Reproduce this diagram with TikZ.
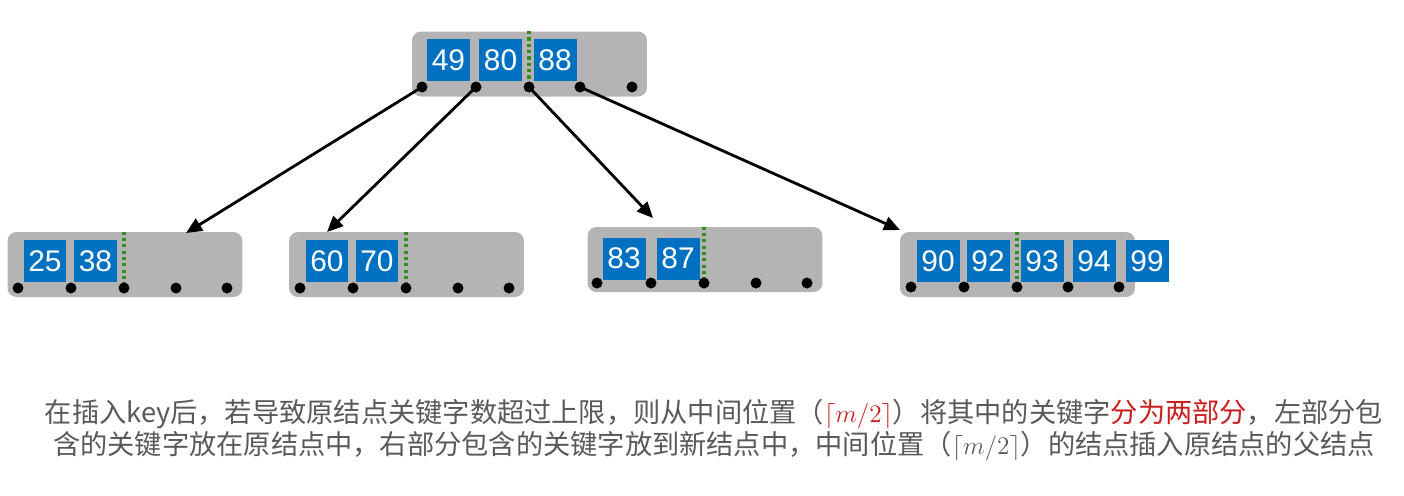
\documentclass[tikz,border=0pt]{standalone}
\usepackage{fontspec}
\setmainfont{Liberation Sans}
\newfontfamily\cjkfont{Noto Sans CJK SC}
\usetikzlibrary{arrows.meta}
\definecolor{keyblue}{RGB}{0,112,192}
\definecolor{nodegray}{RGB}{180,180,180}
\definecolor{splitgreen}{RGB}{50,140,30}
\definecolor{textgray}{RGB}{89,89,89}
\definecolor{splitred}{RGB}{200,30,30}

\begin{document}
\begin{tikzpicture}[x=0.02cm, y=-0.02cm,
      bnode/.style={rectangle, rounded corners=0.18cm, fill=nodegray, inner sep=0pt,
                    minimum width=4.7cm, minimum height=1.3cm},
      keybox/.style={rectangle, fill=keyblue, text=white, inner sep=0pt,
                     minimum width=0.86cm, minimum height=0.84cm, font=\fontsize{17}{18}\selectfont},
      ptr/.style={circle, fill=black, inner sep=0pt, minimum size=0.22cm},
      split/.style={splitgreen, line width=2.2pt, dash pattern=on 1.8pt off 1.8pt},
      arr/.style={-{Triangle[length=0.32cm, width=0.28cm]}, line width=1.6pt},
      note/.style={text=textgray, align=center, font=\cjkfont\fontsize{15.5}{18.7}\selectfont}
    ]
    \useasboundingbox (0,0) rectangle (1404,495);

    % root
    \node[bnode] (root) at (529.5,64) {};
    \node[keybox] (k49) at (448.5,60) {49};
    \node[keybox] (k80) at (500.5,60) {80};
    \node[keybox] (k88) at (555,60) {88};
    \foreach \x [count=\i from 0] in {422,476,529,580,632}
      \coordinate (r\i) at (\x,87);
    \draw[split] (root.north -| r2) -- (r2);

    % leaves
    \node[bnode] (leafa) at (125,264.5) {};
    \node[keybox] (k25) at (45,261) {25};
    \node[keybox] (k38) at (95.5,261) {38};
    \foreach \x [count=\i from 0] in {18,71,124,176,227}
      \coordinate (a\i) at (\x,288);
    \draw[split] (leafa.north -| a2) -- (a2);

    \node[bnode] (leafb) at (406.5,264.5) {};
    \node[keybox] (k60) at (327,261) {60};
    \node[keybox] (k70) at (377,261) {70};
    \foreach \x [count=\i from 0] in {300,353,406,458,509}
      \coordinate (b\i) at (\x,288);
    \draw[split] (leafb.north -| b2) -- (b2);

    \node[bnode] (leafc) at (705,259.5) {};
    \node[keybox] (k83) at (624,258.5) {83};
    \node[keybox] (k87) at (678,258.5) {87};
    \foreach \x [count=\i from 0] in {597,651,704,756,807}
      \coordinate (c\i) at (\x,283);
    \draw[split] (leafc.north -| c2) -- (c2);

    \node[bnode] (leafd) at (1017.5,264.5) {};
    \node[keybox] (k90) at (938,261) {90};
    \node[keybox] (k92) at (988,261) {92};
    \node[keybox] (k93) at (1042,261) {93};
    \node[keybox] (k94) at (1094,261) {94};
    \node[keybox] (k99) at (1147,261) {99};
    \foreach \x [count=\i from 0] in {911,964,1017,1068,1119}
      \coordinate (d\i) at (\x,287);
    \draw[split] (leafd.north -| d2) -- (d2);

    % pointers
    \coordinate (ea) at (186,233);
    \coordinate (eb) at (327,232);
    \coordinate (ec) at (653,218);
    \coordinate (ed) at (900,230);
    \draw[arr] (r0) -- (ea);
    \draw[arr] (r1) -- (eb);
    \draw[arr] (r2) -- (ec);
    \draw[arr] (r3) -- (ed);

    \foreach \n in {r,a,b,c,d}
      \foreach \i in {0,...,4}
        \node[ptr] at (\n\i) {};

    \node[note] (caption) at (714,430)
      {在插入key后，若导致原结点关键字数超过上限，则从中间位置（{\color{splitred}$\lceil m/2\rceil$}）将其中的关键字{\color{splitred}分为两部分}，左部分包\\
       含的关键字放在原结点中，右部分包含的关键字放到新结点中，中间位置（$\lceil m/2\rceil$）的结点插入原结点的父结点};
  \end{tikzpicture}
\end{document}
